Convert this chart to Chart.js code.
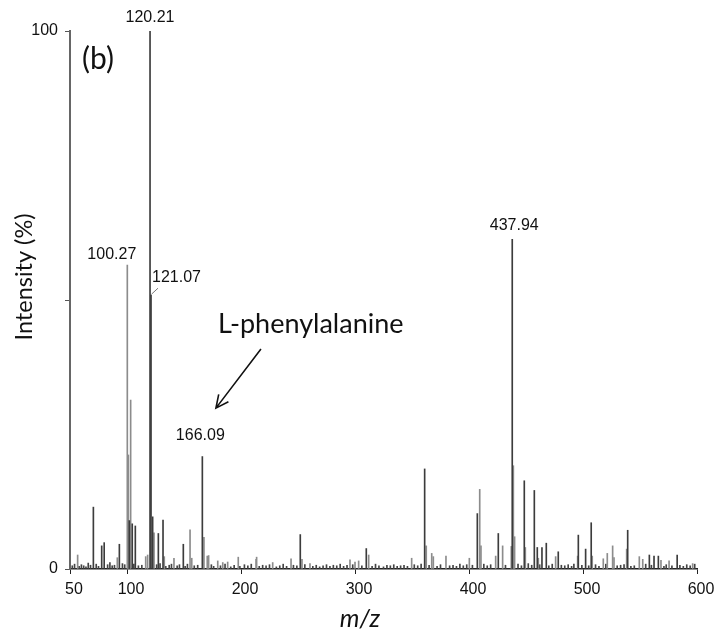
<!DOCTYPE html>
<html>
<head>
<meta charset="utf-8">
<script src="https://cdn.jsdelivr.net/npm/chart.js@4/dist/chart.umd.min.js"></script>
<style>
  html, body { margin: 0; padding: 0; background: #fff; }
  #wrap { width: 721px; height: 630px; position: relative; }
</style>
</head>
<body>
<div id="wrap"><canvas id="ms"></canvas></div>
<script>
// ── data ─────────────────────────────────────────────────────────
const xTicks = [50, 100, 200, 300, 400, 500, 600];
const yTicks = [0, 50, 100];

// darker sticks
const darkMz = [70.5, 77.8, 80.0, 93.3, 102.0, 104.6, 107.3, 120.21, 121.07, 122.5,
  127.5, 131.6, 149.4, 166.09, 252.0, 309.9, 361.1, 407.3, 425.7, 437.94,
  448.5, 457.3, 459.9, 464.0, 467.8, 478.3, 495.9, 502.3, 507.2, 539.2,
  558.2, 562.3, 566.1, 582.6];
const darkInt = [11.5, 4.3, 4.9, 4.6, 9.0, 8.4, 8.0, 100, 50.9, 9.7,
  6.6, 9.1, 4.6, 20.9, 6.4, 3.8, 18.6, 10.3, 6.6, 61.3,
  16.4, 14.6, 4.0, 4.0, 4.8, 3.2, 6.3, 3.7, 8.6, 7.2,
  2.6, 2.4, 2.4, 2.6];

// lighter sticks
const grayMz = [56.7, 91.5, 100.27, 101.2, 103.2, 116.4, 118.1, 123.7, 132.7, 141.2,
  155.3, 156.8, 167.5, 170.4, 171.6, 179.6, 184.0, 188.3, 197.6, 213.2,
  213.7, 227.8, 243.9, 253.5, 260.5, 295.6, 300.0, 303.2, 312.0, 349.7,
  362.5, 367.3, 368.7, 379.8, 400.3, 409.4, 410.5, 423.4, 429.5, 437.1,
  438.9, 440.0, 449.4, 460.8, 476.0, 495.3, 508.1, 517.8, 521.3, 526.0,
  527.2, 538.3, 549.4, 552.4, 568.4, 575.5, 596.2];
const grayInt = [2.6, 2.1, 56.5, 21.2, 31.4, 2.3, 2.6, 6.7, 2.3, 2.0,
  7.3, 2.0, 5.9, 2.4, 2.5, 1.5, 1.2, 1.3, 2.2, 1.8,
  2.2, 1.2, 1.9, 1.8, 1.0, 1.7, 1.3, 1.5, 2.6, 2.0,
  4.3, 2.9, 2.3, 2.4, 2.0, 14.8, 4.3, 2.4, 4.3, 4.2,
  19.2, 6.0, 4.0, 2.0, 2.3, 2.4, 2.4, 1.9, 2.9, 4.3,
  2.1, 3.7, 2.3, 1.8, 1.6, 1.5, 1.0];

// baseline noise
const noiseMz = [52, 54, 58, 60, 62, 64, 66, 68, 73, 75,
  83, 85, 87, 89, 96, 98, 106, 110, 113, 126,
  129, 134, 137, 139, 144, 146, 151, 153, 159, 162,
  174, 176, 182, 186, 191, 194, 199, 203, 206, 209,
  216, 219, 222, 225, 231, 234, 237, 240, 246, 249,
  256, 263, 266, 269, 272, 275, 278, 281, 284, 287,
  290, 293, 298, 306, 315, 318, 321, 325, 328, 331,
  334, 337, 340, 343, 346, 352, 355, 358, 365, 372,
  375, 383, 386, 389, 392, 395, 398, 403, 413, 416,
  419, 432, 443, 446, 452, 455, 462, 470, 473, 481,
  484, 487, 490, 492, 499, 505, 511, 514, 520, 530,
  533, 536, 542, 545, 555, 560, 571, 573, 578, 585,
  588, 591, 594, 598];
const noiseInt = [0.6, 0.9, 0.5, 0.8, 0.6, 0.4, 1.1, 0.7, 0.9, 0.5,
  0.8, 1.2, 0.6, 0.7, 1.0, 0.8, 0.9, 0.6, 0.7, 0.8,
  1.0, 0.5, 0.7, 0.9, 0.6, 0.8, 0.5, 0.9, 0.6, 0.7,
  0.8, 0.5, 0.6, 0.9, 0.4, 0.7, 0.5, 0.8, 0.6, 0.9,
  0.5, 0.7, 0.6, 0.8, 0.4, 0.6, 0.9, 0.5, 0.7, 0.6,
  0.8, 0.5, 0.7, 0.4, 0.6, 0.8, 0.5, 0.7, 0.6, 0.9,
  0.5, 0.7, 0.8, 0.6, 0.5, 0.9, 0.6, 0.4, 0.7, 0.6,
  0.8, 0.5, 0.6, 0.7, 0.5, 0.8, 0.6, 0.9, 0.7, 0.5,
  0.8, 0.6, 0.7, 0.5, 0.9, 0.6, 0.8, 0.7, 0.9, 0.6,
  0.8, 0.7, 0.9, 0.6, 1.0, 0.7, 0.8, 0.6, 0.9, 0.7,
  0.6, 0.8, 0.5, 0.9, 0.7, 0.6, 0.8, 0.5, 0.9, 0.6,
  0.7, 0.8, 0.5, 0.6, 0.9, 0.7, 0.5, 0.8, 0.6, 0.7,
  0.5, 0.8, 0.6, 0.9];

// labelled peaks: [text, m/z, intensity]
const peakLabels = [
  ['120.21', 120.21, 100],
  ['100.27', 100.27, 56.5],
  ['121.07', 121.07, 50.9],
  ['166.09', 166.09, 20.9],
  ['437.94', 437.94, 61.3],
];
const compoundName = 'L-phenylalanine';
const panelTag = '(b)';
const xTitle = 'm/z';
const yTitle = 'Intensity (%)';

function pts(mz, it) { return mz.map((m, i) => ({ x: m, y: it[i] })); }

// ── annotations drawn on top ─────────────────────────────────────
const NUM_FONT = '16px "Liberation Sans", Arial, sans-serif';
const annotate = {
  id: 'annotate',
  afterDraw(chart) {
    const { ctx } = chart;
    const xs = chart.scales.x, ys = chart.scales.y;
    ctx.save();
    ctx.fillStyle = '#111';
    ctx.font = NUM_FONT;
    ctx.textBaseline = 'middle';
    // offsets of each label from its peak top (px)
    const off = {
      '120.21': [0, -13, 'center'],
      '100.27': [9, -10, 'right'],
      '121.07': [1, -18, 'left'],
      '166.09': [-2, -21, 'center'],
      '437.94': [2, -14, 'center'],
    };
    peakLabels.forEach(([t, m, v]) => {
      const px = xs.getPixelForValue(m), py = ys.getPixelForValue(v);
      const o = off[t];
      ctx.textAlign = o[2];
      ctx.fillText(t, px + o[0], py + o[1]);
    });
    // small leader for 121.07
    const lx = xs.getPixelForValue(121.07), ly = ys.getPixelForValue(50.9);
    ctx.strokeStyle = '#777';
    ctx.lineWidth = 1;
    ctx.beginPath();
    ctx.moveTo(lx + 0.5, ly - 1);
    ctx.lineTo(lx + 7, ly - 7);
    ctx.stroke();

    // panel tag
    ctx.font = '30px Lato, "Open Sans", sans-serif';
    ctx.textAlign = 'left';
    ctx.fillText(panelTag, xs.getPixelForValue(60.5), ys.getPixelForValue(94.8));

    // compound + arrow
    ctx.font = '27px Lato, "Open Sans", sans-serif';
    ctx.fillText(compoundName, xs.getPixelForValue(179.8), ys.getPixelForValue(45.5));
    const ax0 = xs.getPixelForValue(217.5), ay0 = ys.getPixelForValue(40.9);
    const ax1 = xs.getPixelForValue(178.0), ay1 = ys.getPixelForValue(29.9);
    ctx.strokeStyle = '#111';
    ctx.lineWidth = 1.6;
    ctx.beginPath();
    ctx.moveTo(ax0, ay0);
    ctx.lineTo(ax1, ay1);
    const ang = Math.atan2(ay1 - ay0, ax1 - ax0), head = 14;
    ctx.moveTo(ax1 - head * Math.cos(ang - 0.45), ay1 - head * Math.sin(ang - 0.45));
    ctx.lineTo(ax1, ay1);
    ctx.lineTo(ax1 - head * Math.cos(ang + 0.45), ay1 - head * Math.sin(ang + 0.45));
    ctx.stroke();

    // axis titles
    ctx.font = 'italic 25px Lato, "Open Sans", sans-serif';
    ctx.textAlign = 'center';
    ctx.fillText(xTitle, 360, 619);
    ctx.translate(24, 277);
    ctx.rotate(-Math.PI / 2);
    ctx.font = '23.5px Lato, "Open Sans", sans-serif';
    ctx.fillText(yTitle, 0, 0);
    ctx.restore();
  }
};

new Chart(document.getElementById('ms'), {
  type: 'bar',
  data: {
    datasets: [
      { label: 'dark', data: pts(darkMz, darkInt), backgroundColor: '#3c3c3c', barThickness: 1, grouped: false },
      { label: 'gray', data: pts(grayMz, grayInt), backgroundColor: '#8c8c8c', barThickness: 1, grouped: false },
      { label: 'noise', data: pts(noiseMz, noiseInt), backgroundColor: '#444', barThickness: 1, grouped: false },
    ]
  },
  options: {
    responsive: true, maintainAspectRatio: false, animation: false,
    layout: { padding: { top: 31, right: 24, left: 0, bottom: 0 } },
    plugins: { legend: { display: false }, tooltip: { enabled: false } },
    scales: {
      x: {
        type: 'linear', min: 50, max: 600, offset: false,
        afterBuildTicks: s => { s.ticks = xTicks.map(v => ({ value: v })); },
        afterFit: s => { s.height = 61; },
        grid: { display: true, drawOnChartArea: false, drawTicks: true, tickLength: 5, color: '#222', offset: false },
        border: { display: true, color: '#222', width: 1.5 },
        ticks: { color: '#111', font: { size: 16, family: '"Liberation Sans", Arial, sans-serif' }, padding: 6, labelOffset: 4, maxRotation: 0, autoSkip: false },
      },
      y: {
        min: 0, max: 100,
        afterBuildTicks: s => { s.ticks = yTicks.map(v => ({ value: v })); },
        afterFit: s => { s.width = 70; },
        grid: { display: true, drawOnChartArea: false, drawTicks: true, tickLength: 5, color: '#555' },
        border: { display: true, color: '#666', width: 2 },
        ticks: { color: '#111', font: { size: 16, family: '"Liberation Sans", Arial, sans-serif' }, padding: 7, callback: v => v === 50 ? '' : v },
      }
    }
  },
  plugins: [annotate]
});
</script>
</body>
</html>
